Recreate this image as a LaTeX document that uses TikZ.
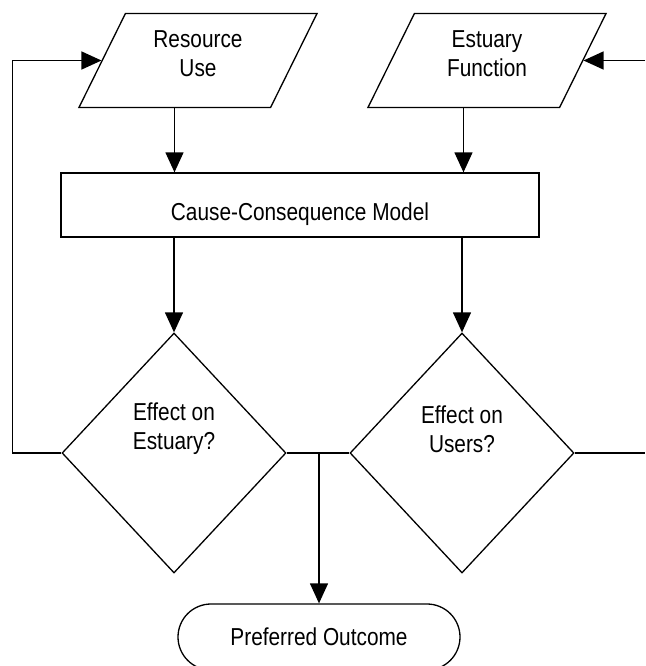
\documentclass[tikz,border=0pt]{standalone}
\usepackage{fontspec}
\setmainfont{Liberation Sans}[FakeStretch=0.85]
\usepackage{tikz}
\usetikzlibrary{shapes,arrows.meta}

\begin{document}
\begin{tikzpicture}[x=1pt, y=-1pt, line width=1.3pt,
    every node/.style={font=\fontsize{24.5}{29}\selectfont, align=center},
    io/.style={draw, trapezium, trapezium left angle=63.7, trapezium right angle=116.3, trapezium stretches body, minimum width=238pt, inner xsep=0pt, inner ysep=17pt, text depth=14pt},
    process/.style={draw, rectangle, minimum width=478pt, minimum height=64pt, inner sep=0pt, text height=36pt, text depth=5pt},
    decision/.style={draw, diamond, minimum width=224pt, minimum height=240pt, inner sep=0pt},
    terminal/.style={draw, rounded rectangle, minimum width=282pt, minimum height=66pt, inner sep=0pt},
    arr/.style={-{Triangle[length=20pt,width=18pt]}}]
    \useasboundingbox (0,0) rectangle (645,666);

    \node[io] (res) at (198,60.5) {Resource\\Use};
    \node[io] (est) at (487,60.5) {Estuary\\Function};
    \node[process] (model) at (300,205) {Cause-Consequence Model};
    \node[decision] (effE) at (174,453) {};
    \node[decision] (effU) at (462,453) {};
    \node (effEtxt) at (174,429) {Effect on\\Estuary?};
    \node (effUtxt) at (462,429) {Effect on\\Users?};
    \node[terminal] (pref) at (319,637) {Preferred Outcome};
    \coordinate (rim) at (645,0);

    \draw[arr] (res.bottom side) -- (res.bottom side |- model.north);
    \draw[arr] (est.bottom side) -- (est.bottom side |- model.north);
    \draw[arr] (model.south -| effE.north) -- (effE.north);
    \draw[arr] (model.south -| effU.north) -- (effU.north);
    \draw (effE.east) -- (effU.west);
    \draw[arr] (effE.east -| pref.north) -- (pref.north);
    % feedback loops
    \draw[arr] (effE.west) -- ++(-49,0) |- (res.left side);
    \draw (effU.east) -- (effU.east -| rim);
    \draw[arr] (rim |- est.right side) -- (est.right side);
\end{tikzpicture}
\end{document}
